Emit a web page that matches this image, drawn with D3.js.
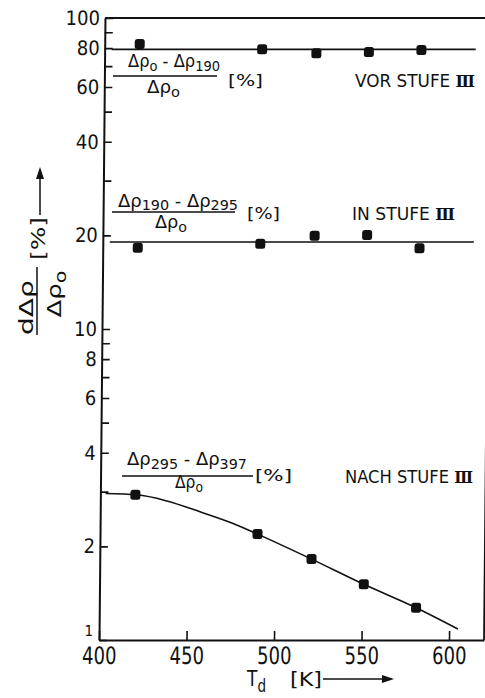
<!DOCTYPE html>
<html>
<head>
<meta charset="utf-8">
<script src="https://cdn.jsdelivr.net/npm/d3@7"></script>
<style>
  html, body { margin: 0; padding: 0; background: #fff; }
  svg { display: block; }
  text { font-family: "DejaVu Sans Condensed", "DejaVu Sans", sans-serif; font-stretch: condensed; fill: #111; }
  .roman { font-family: "DejaVu Serif", "Liberation Serif", serif; }
</style>
</head>
<body>
<svg id="chart" width="485" height="698"></svg>
<script>
// Annealing temperature T_d [K] of the measured points
const temps = [420, 490, 521, 551, 581];
// Recovery fractions [%]
const vorStufe  = [82.5, 79.3, 77.0, 77.7, 78.9];
const inStufe   = [18.25, 18.8, 19.95, 20.06, 18.17];
const nachStufe = [2.93, 2.19, 1.82, 1.51, 1.27];
// Mean levels drawn through the first two series
const vorLevel = 79.3;
const inLevel = 19.05;
const levelSpan = [404, 612];
// Smooth curve through the third series
const nachCurveT = [403, 421, 438, 457, 476, 490, 521, 551, 581, 605];
const nachCurveV = [2.96, 2.93, 2.80, 2.585, 2.37, 2.19, 1.82, 1.51, 1.27, 1.085];
// Axis ticks
const xTicks = [400, 450, 500, 550, 600];
const yLabelTicks = [1, 2, 4, 6, 8, 10, 20, 40, 60, 80, 100];
const yMinorTicks = [3, 5, 7, 9, 30, 50, 70, 90];

const ink = "#111";
const svg = d3.select("#chart");

const x = d3.scaleLinear().domain([400, 620]).range([99, 484]);
const y = d3.scaleLog().domain([1, 100]).range([640, 18]);

// plot area, leaning slightly like the printed figure
const plot = svg.append("g")
  .attr("transform", `translate(0,${y(1)}) skewX(-0.55) translate(0,${-y(1)})`);

// frame top and right
plot.append("path")
  .attr("d", `M${x(400)},${y(100)}H${x(620)}V${y(1)}`)
  .attr("fill", "none").attr("stroke", ink).attr("stroke-width", 1.8);

// y axis with labelled ticks
const yAxis = plot.append("g")
  .attr("transform", `translate(${x(400)},0)`)
  .call(d3.axisLeft(y).tickValues(yLabelTicks).tickFormat(d3.format("d"))
    .tickSizeInner(-8).tickSizeOuter(0).tickPadding(5));
// minor ticks
const yMinor = plot.append("g")
  .attr("transform", `translate(${x(400)},0)`)
  .call(d3.axisLeft(y).tickValues(yMinorTicks).tickFormat("")
    .tickSizeInner(-8).tickSizeOuter(0));
yMinor.select(".domain").remove();

// x axis
const xAxis = plot.append("g")
  .attr("transform", `translate(0,${y(1)})`)
  .call(d3.axisBottom(x).tickValues(xTicks).tickFormat(d3.format("d"))
    .tickSizeInner(-9).tickSizeOuter(0));

[yAxis, yMinor, xAxis].forEach(a => {
  a.selectAll(".domain").attr("stroke", ink).attr("stroke-width", 2);
  a.selectAll(".tick line").attr("stroke", ink).attr("stroke-width", 1.6);
});
yAxis.selectAll("text").attr("font-size", 20).attr("fill", ink)
  .style("font-family", '"DejaVu Sans Condensed","DejaVu Sans",sans-serif');
// the corner label "1" sits small, just above the x axis
yAxis.selectAll(".tick").filter(d => d === 1).select("text")
  .attr("font-size", 15).attr("dy", "-0.3em").attr("x", -6);
xAxis.selectAll("text").attr("font-size", 20).attr("fill", ink)
  .attr("y", 0).attr("dy", null)
  .attr("transform", "translate(0,24) scale(1,1.2)")
  .style("font-family", '"DejaVu Sans Condensed","DejaVu Sans",sans-serif');

// lines
const line = d3.line().x(d => x(d[0])).y(d => y(d[1]));
plot.append("path")
  .attr("d", line(levelSpan.map(t => [t, vorLevel])))
  .attr("fill", "none").attr("stroke", ink).attr("stroke-width", 1.6);
plot.append("path")
  .attr("d", line(levelSpan.map(t => [t, inLevel])))
  .attr("fill", "none").attr("stroke", ink).attr("stroke-width", 1.6);
plot.append("path")
  .attr("d", line.curve(d3.curveMonotoneX)(nachCurveT.map((t, i) => [t, nachCurveV[i]])))
  .attr("fill", "none").attr("stroke", ink).attr("stroke-width", 1.6);

// markers
const ms = 10;
[vorStufe, inStufe, nachStufe].forEach(series => {
  plot.append("g").selectAll("rect")
    .data(series.map((v, i) => [temps[i], v]))
    .join("rect")
    .attr("x", d => x(d[0]) - ms / 2)
    .attr("y", d => y(d[1]) - ms / 2)
    .attr("width", ms).attr("height", ms).attr("rx", 2.5)
    .attr("fill", ink);
});

// ---- annotations ----
const notes = svg.append("g");

// text with subscripts: parts = [[string, isSub], ...]
function rich(parent, px, py, parts, size, width, anchor, shift) {
  const sh = shift === undefined ? 0.26 : shift;
  const t = parent.append("text")
    .attr("x", px).attr("y", py)
    .attr("font-size", size)
    .attr("text-anchor", anchor || "start");
  let down = false;
  parts.forEach(([s, sub]) => {
    const ts = t.append("tspan").text(s);
    if (sub && !down) { ts.attr("dy", size * sh).attr("font-size", size * 0.8); down = true; }
    else if (sub) { ts.attr("font-size", size * 0.8); }
    else if (!sub && down) { ts.attr("dy", -size * sh); down = false; }
  });
  if (width) t.attr("textLength", width).attr("lengthAdjust", "spacingAndGlyphs");
  return t;
}
function bar(parent, x1, x2, yy) {
  parent.append("line").attr("x1", x1).attr("x2", x2).attr("y1", yy).attr("y2", yy)
    .attr("stroke", ink).attr("stroke-width", 1.5);
}
function stage(parent, px, py, word, width) {
  const t = parent.append("text").attr("x", px).attr("y", py).attr("font-size", 18)
    .attr("textLength", width).attr("lengthAdjust", "spacingAndGlyphs");
  t.append("tspan").text(word + "  STUFE ");
  t.append("tspan").attr("class", "roman").attr("font-size", 17).attr("font-weight", 700).text("Ⅲ");
  return t;
}

// VOR STUFE III
rich(notes, 128, 67, [["Δρ"], ["o", 1], [" - Δρ"], ["190", 1]], 17, 92);
bar(notes, 113, 217, 76);
rich(notes, 147, 93, [["Δρ"], ["o", 1]], 17, 33);
rich(notes, 228, 86, [["[%]"]], 16, 35);
stage(notes, 355, 86.5, "VOR", 120);

// IN STUFE III
rich(notes, 118, 207, [["Δρ"], ["190", 1], [" - Δρ"], ["295", 1]], 17, 120, "start", 0.2);
bar(notes, 112, 235, 212);
rich(notes, 155, 228, [["Δρ"], ["o", 1]], 17, 32);
rich(notes, 247, 219, [["[%]"]], 16, 33);
stage(notes, 352, 220, "IN", 103);

// NACH STUFE III
rich(notes, 127, 465, [["Δρ"], ["295", 1], [" - Δρ"], ["397", 1]], 17, 120, "start", 0.22);
bar(notes, 122, 253, 476);
rich(notes, 175, 488, [["Δρ"], ["o", 1]], 17, 28);
rich(notes, 255, 481, [["[%]"]], 16, 37);
stage(notes, 345, 483, "NACH", 128);

// y axis title (rotated)
const yt = svg.append("g").attr("transform", "translate(37,301) rotate(-90)");
bar(yt, -34, 34, 0);
rich(yt, -6.5, -4, [["dΔρ"]], 20, 55, "middle");
rich(yt, 7, 24, [["Δρ"], ["o", 1]], 20, 47, "middle");
rich(yt, 41, 8, [["[%]"]], 19, 43);
yt.append("line").attr("x1", 86).attr("x2", 124).attr("y1", 3).attr("y2", 3)
  .attr("stroke", ink).attr("stroke-width", 1.5);
yt.append("path").attr("d", "M134,3L122,-1L122,7Z").attr("fill", ink);

// x axis title
rich(svg, 247, 686, [["T"], ["d", 1]], 21, 19, "start", 0.3);
rich(svg, 290, 686, [["[K]"]], 20, 32);
svg.append("line").attr("x1", 323).attr("x2", 384).attr("y1", 679).attr("y2", 679)
  .attr("stroke", ink).attr("stroke-width", 1.5);
svg.append("path").attr("d", "M394,679L382,675L382,683Z").attr("fill", ink);
</script>
</body>
</html>
